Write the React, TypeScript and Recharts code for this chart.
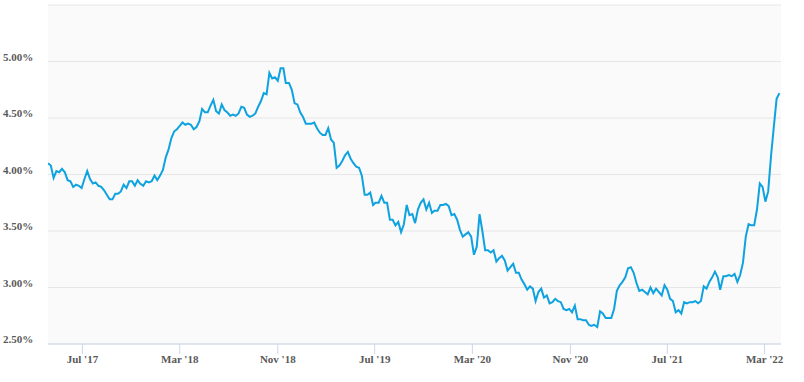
import React from 'react';
import { LineChart, Line, XAxis, YAxis, CartesianGrid } from 'recharts';

// Weekly dates (MM-DD) and rates (%) by year
const dates2017 = ['04-06','04-13','04-20','04-27','05-04','05-11','05-18','05-25','06-01','06-08','06-15','06-22','06-29','07-06','07-13','07-20','07-27','08-03','08-10','08-17','08-24','08-31','09-07','09-14','09-21','09-28','10-05','10-12','10-19','10-26','11-02','11-09','11-16','11-22','11-30','12-07','12-14','12-21','12-28'];
const rates2017 = [4.10,4.08,3.97,4.03,4.02,4.05,4.02,3.95,3.94,3.89,3.91,3.90,3.88,3.96,4.03,3.96,3.92,3.93,3.90,3.89,3.86,3.82,3.78,3.78,3.83,3.83,3.85,3.91,3.88,3.94,3.94,3.90,3.95,3.92,3.90,3.94,3.93,3.94,3.99];

const dates2018 = ['01-04','01-11','01-18','01-25','02-01','02-08','02-15','02-22','03-01','03-08','03-15','03-22','03-29','04-05','04-12','04-19','04-26','05-03','05-10','05-17','05-24','05-31','06-07','06-14','06-21','06-28','07-05','07-12','07-19','07-26','08-02','08-09','08-16','08-23','08-30','09-06','09-13','09-20','09-27','10-04','10-11','10-18','10-25','11-01','11-08','11-15','11-21','11-29','12-06','12-13','12-20','12-27'];
const rates2018 = [3.95,3.99,4.04,4.15,4.22,4.32,4.38,4.40,4.43,4.46,4.44,4.45,4.44,4.40,4.42,4.47,4.58,4.55,4.55,4.61,4.66,4.56,4.54,4.62,4.57,4.55,4.52,4.53,4.52,4.54,4.60,4.59,4.53,4.51,4.52,4.54,4.60,4.65,4.72,4.71,4.90,4.85,4.86,4.83,4.94,4.94,4.81,4.81,4.75,4.63,4.62,4.55];

const dates2019 = ['01-03','01-10','01-17','01-24','01-31','02-07','02-14','02-21','02-28','03-07','03-14','03-21','03-28','04-04','04-11','04-18','04-25','05-02','05-09','05-16','05-23','05-30','06-06','06-13','06-20','06-27','07-03','07-11','07-18','07-25','08-01','08-08','08-15','08-22','08-29','09-05','09-12','09-19','09-26','10-03','10-10','10-17','10-24','10-31','11-07','11-14','11-21','11-27','12-05','12-12','12-19','12-26'];
const rates2019 = [4.51,4.45,4.45,4.45,4.46,4.41,4.37,4.35,4.35,4.41,4.31,4.28,4.06,4.08,4.12,4.17,4.20,4.14,4.10,4.07,4.06,3.99,3.82,3.82,3.84,3.73,3.75,3.75,3.81,3.75,3.75,3.60,3.60,3.55,3.58,3.49,3.56,3.73,3.64,3.65,3.57,3.69,3.75,3.78,3.69,3.75,3.66,3.68,3.68,3.73,3.73,3.74];

const dates2020 = ['01-02','01-09','01-16','01-23','01-30','02-06','02-13','02-20','02-27','03-05','03-12','03-19','03-26','04-02','04-09','04-16','04-23','04-30','05-07','05-14','05-21','05-28','06-04','06-11','06-18','06-25','07-02','07-09','07-16','07-23','07-30','08-06','08-13','08-20','08-27','09-03','09-10','09-17','09-24','10-01','10-08','10-15','10-22','10-29','11-05','11-12','11-19','11-25','12-03','12-10','12-17','12-23','12-30'];
const rates2020 = [3.72,3.64,3.65,3.60,3.51,3.45,3.47,3.49,3.45,3.29,3.36,3.65,3.50,3.33,3.33,3.31,3.33,3.23,3.26,3.28,3.24,3.15,3.18,3.21,3.13,3.13,3.07,3.03,2.98,3.01,2.99,2.88,2.96,2.99,2.91,2.93,2.86,2.87,2.90,2.88,2.87,2.81,2.80,2.81,2.78,2.84,2.72,2.72,2.71,2.71,2.67,2.66,2.67];

const dates2021 = ['01-07','01-14','01-21','01-28','02-04','02-11','02-18','02-25','03-04','03-11','03-18','03-25','04-01','04-08','04-15','04-22','04-29','05-06','05-13','05-20','05-27','06-03','06-10','06-17','06-24','07-01','07-08','07-15','07-22','07-29','08-05','08-12','08-19','08-26','09-02','09-09','09-16','09-23','09-30','10-07','10-14','10-21','10-28','11-04','11-10','11-18','11-24','12-02','12-09','12-16','12-23','12-30'];
const rates2021 = [2.65,2.79,2.77,2.73,2.73,2.73,2.81,2.97,3.02,3.05,3.09,3.17,3.18,3.13,3.04,2.97,2.98,2.96,2.94,3.00,2.95,2.99,2.96,2.93,3.02,2.98,2.90,2.88,2.78,2.80,2.77,2.87,2.86,2.87,2.87,2.88,2.86,2.88,3.01,2.99,3.05,3.09,3.14,3.09,2.98,3.10,3.10,3.11,3.10,3.12,3.05,3.11];

const dates2022 = ['01-06','01-13','01-20','01-27','02-03','02-10','02-17','02-24','03-03','03-10','03-17','03-24','03-31','04-07'];
const rates2022 = [3.22,3.45,3.56,3.55,3.55,3.69,3.92,3.89,3.76,3.85,4.16,4.42,4.67,4.72];

const xTickDates = ['2017-07-01','2018-03-01','2018-11-01','2019-07-01','2020-03-01','2020-11-01','2021-07-01','2022-03-01'];
const xTickLabels = ["Jul '17","Mar '18","Nov '18","Jul '19","Mar '20","Nov '20","Jul '21","Mar '22"];
const xDomainDates = ['2017-04-06', '2022-04-11'];
const yTicks = [2.5, 3, 3.5, 4, 4.5, 5, 5.5];
const yTickLabels = ['2.50%','3.00%','3.50%','4.00%','4.50%','5.00%',''];

const toTs = (s: string) => Date.UTC(+s.slice(0, 4), +s.slice(5, 7) - 1, +s.slice(8, 10));

const years: [string, string[], number[]][] = [
  ['2017', dates2017, rates2017],
  ['2018', dates2018, rates2018],
  ['2019', dates2019, rates2019],
  ['2020', dates2020, rates2020],
  ['2021', dates2021, rates2021],
  ['2022', dates2022, rates2022],
];

const data = years.flatMap(([y, ds, rs]) => ds.map((d, i) => ({ t: toTs(`${y}-${d}`), v: rs[i] })));
const xTicks = xTickDates.map(toTs);
const xDomain = xDomainDates.map(toTs);

const labelStyle = { fontFamily: '"Liberation Serif", "Times New Roman", serif', fontSize: 11, fontWeight: 700, fill: '#595959' };

const YTick = (props: any) => {
  const { y, payload } = props;
  const idx = yTicks.indexOf(payload.value);
  const label = yTickLabels[idx] || '';
  if (!label) return <g />;
  return (
    <text x={3} y={y - 5} dominantBaseline="central" textAnchor="start" style={labelStyle}>
      {label}
    </text>
  );
};

const XTick = (props: any) => {
  const { x, y, payload } = props;
  const idx = xTicks.indexOf(payload.value);
  return (
    <text x={x} y={y} dy="0.71em" textAnchor="middle" style={labelStyle}>
      {xTickLabels[idx]}
    </text>
  );
};

export default function App() {
  return (
    <div style={{ position: 'absolute', left: 0, top: 0, width: 804, height: 382, background: '#ffffff' }}>
      <LineChart width={804} height={382} data={data} margin={{ top: 5, right: 23, bottom: 0, left: 0 }}>
        <CartesianGrid vertical={false} stroke="#e6e6e6" fill="#fafafa" />
        <XAxis
          dataKey="t"
          type="number"
          domain={xDomain}
          allowDataOverflow
          ticks={xTicks}
          height={38}
          stroke="#ccd6eb"
          tickSize={10}
          tickMargin={1}
          tick={<XTick />}
          interval={0}
        />
        <YAxis
          type="number"
          domain={[2.5, 5.5]}
          ticks={yTicks}
          width={48}
          axisLine={false}
          tickLine={false}
          tick={<YTick />}
          interval={0}
        />
        <Line
          type="linear"
          dataKey="v"
          stroke="#0ea2e0"
          strokeWidth={2}
          dot={false}
          activeDot={false}
          isAnimationActive={false}
        />
      </LineChart>
    </div>
  );
}
